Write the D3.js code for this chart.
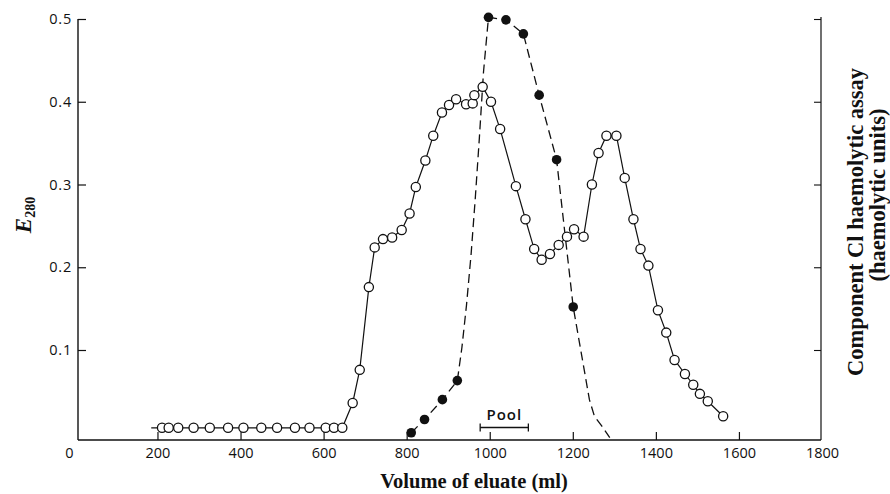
<!DOCTYPE html>
<html>
<head>
<meta charset="utf-8">
<script src="https://cdn.jsdelivr.net/npm/d3@7"></script>
<style>
  html, body { margin: 0; padding: 0; background: #fff; }
  svg { display: block; }
  .tick text { font-family: "Open Sans", sans-serif; font-size: 14.5px; fill: #111; }
</style>
</head>
<body>
<svg id="chart" width="890" height="494"></svg>
<script>
// ---- data ----
// E280 absorbance (open circles, solid line)
const e280Volume = [211, 227, 250, 287, 326, 370, 407, 450, 488, 531, 566, 605, 625, 645,
  670, 687, 709, 723, 743, 765, 788, 807, 822, 845, 864, 885, 902, 919, 943, 959, 963, 983,
  1003, 1025, 1063, 1086, 1107, 1125, 1145, 1166, 1186, 1203, 1226, 1246, 1262, 1281, 1305,
  1325, 1346, 1363, 1382, 1405, 1425, 1445, 1470, 1490, 1506, 1525, 1562];
const e280Value = [0.006, 0.006, 0.006, 0.006, 0.006, 0.006, 0.006, 0.006, 0.006, 0.006, 0.006, 0.006, 0.006, 0.006,
  0.036, 0.076, 0.176, 0.224, 0.234, 0.236, 0.245, 0.265, 0.297, 0.329, 0.359, 0.387, 0.396, 0.403, 0.397, 0.398, 0.408, 0.418,
  0.400, 0.367, 0.298, 0.258, 0.222, 0.209, 0.216, 0.227, 0.237, 0.246, 0.237, 0.300, 0.338, 0.359, 0.359,
  0.308, 0.258, 0.222, 0.202, 0.148, 0.121, 0.088, 0.071, 0.058, 0.047, 0.038, 0.020];
const e280LeadVolume = 185; // short line stub before the first circle

// Component C1 haemolytic assay (filled circles, dashed line), on the right-axis scale
const assayVolume = [811, 843, 886, 922, 997, 1039, 1081, 1119, 1161, 1201];
const assayValue = [0.0, 0.016, 0.040, 0.063, 0.502, 0.499, 0.482, 0.408, 0.330, 0.152];
// dashed curve path (includes unmarked stretches of the hand-drawn curve)
const assayCurveVolume = [811, 843, 886, 922, 933, 944, 955, 965, 975, 985, 997, 1039, 1081, 1119, 1161, 1201, 1240, 1252, 1270, 1289];
const assayCurveValue = [0.0, 0.016, 0.040, 0.063, 0.103, 0.154, 0.215, 0.282, 0.356, 0.436, 0.502, 0.499, 0.482, 0.408, 0.330, 0.152, 0.040, 0.020, 0.008, -0.006];

// pool bracket
const poolRange = [977, 1093];
const poolLabel = "Pool";

// ticks
const xTicks = [200, 400, 600, 800, 1000, 1200, 1400, 1600, 1800];
const yTicks = [0.1, 0.2, 0.3, 0.4, 0.5];
const xTitle = "Volume of eluate (ml)";
const rightTitle1 = "Component Cl haemolytic assay";
const rightTitle2 = "(haemolytic units)";

// ---- layout ----
const svg = d3.select("#chart");
const x = d3.scaleLinear().domain([0, 1800]).range([74.4, 822]);
const y = d3.scaleLinear().domain([0, 0.5]).range([432.75, 19]);
const axisY = 440;   // x-axis line position
const leftX = 78;    // left axis line
const rightX = 821;  // right axis line

const ink = "#111";

// axis lines
svg.append("line").attr("x1", leftX).attr("x2", rightX).attr("y1", axisY).attr("y2", axisY)
  .attr("stroke", ink).attr("stroke-width", 1.4);
svg.append("line").attr("x1", leftX).attr("x2", leftX).attr("y1", y(0.5)).attr("y2", axisY)
  .attr("stroke", ink).attr("stroke-width", 1.4);
svg.append("line").attr("x1", rightX).attr("x2", rightX).attr("y1", y(0.5) - 2).attr("y2", axisY)
  .attr("stroke", ink).attr("stroke-width", 1.2);

// x axis ticks (pointing up)
const gx = svg.append("g").attr("transform", `translate(0,${axisY})`)
  .call(d3.axisBottom(x).tickValues(xTicks).tickSizeInner(-8).tickSizeOuter(0).tickPadding(8)
    .tickFormat(d3.format("d")));
gx.select(".domain").remove();
gx.selectAll(".tick line").attr("stroke", ink).attr("stroke-width", 1.2);
gx.selectAll(".tick").filter(d => d === 1800).select("line").remove();
// "0" label at the origin
svg.append("text").attr("x", x(0) - 5).attr("y", axisY + 8).attr("dy", "0.71em")
  .attr("text-anchor", "middle")
  .style("font-family", "'Open Sans', sans-serif").style("font-size", "14.5px").attr("fill", ink)
  .text("0");

// left y axis
const gy = svg.append("g").attr("transform", `translate(${leftX},0)`)
  .call(d3.axisLeft(y).tickValues(yTicks).tickSizeInner(-8).tickSizeOuter(0).tickPadding(6)
    .tickFormat(d3.format(".1f")));
gy.select(".domain").remove();
gy.selectAll(".tick line").attr("stroke", ink).attr("stroke-width", 1.2);
gy.selectAll(".tick text").style("letter-spacing", "0.8px");

// right axis (ticks only, pointing inward)
const gr = svg.append("g").attr("transform", `translate(${rightX},0)`)
  .call(d3.axisRight(y).tickValues(yTicks).tickSizeInner(-7).tickSizeOuter(0).tickFormat(""));
gr.select(".domain").remove();
gr.selectAll(".tick line").attr("stroke", ink).attr("stroke-width", 1.1);

// E280 line
const e280 = e280Volume.map((v, i) => ({ v, val: e280Value[i] }));
const line = d3.line().x(d => x(d.v)).y(d => y(d.val));
svg.append("path")
  .datum([{ v: e280LeadVolume, val: e280Value[0] }].concat(e280))
  .attr("d", line).attr("fill", "none").attr("stroke", ink).attr("stroke-width", 1.2);

// assay dashed curve
const assayCurve = assayCurveVolume.map((v, i) => ({ v, val: assayCurveValue[i] }));
svg.append("path").datum(assayCurve)
  .attr("d", line)
  .attr("fill", "none").attr("stroke", ink).attr("stroke-width", 1.3)
  .attr("stroke-dasharray", "9,5");

// E280 open circles
svg.append("g").selectAll("circle").data(e280).join("circle")
  .attr("cx", d => x(d.v)).attr("cy", d => y(d.val)).attr("r", 4.6)
  .attr("fill", "#fff").attr("stroke", ink).attr("stroke-width", 1.3);

// assay filled circles
const assay = assayVolume.map((v, i) => ({ v, val: assayValue[i] }));
svg.append("g").selectAll("circle").data(assay).join("circle")
  .attr("cx", d => x(d.v)).attr("cy", d => y(d.val)).attr("r", 4.8)
  .attr("fill", ink);

// pool bracket
const poolY = 427.5;
const pg = svg.append("g").attr("stroke", ink).attr("stroke-width", 1.3);
pg.append("line").attr("x1", x(poolRange[0])).attr("x2", x(poolRange[1])).attr("y1", poolY).attr("y2", poolY);
pg.append("line").attr("x1", x(poolRange[0])).attr("x2", x(poolRange[0])).attr("y1", poolY - 4).attr("y2", poolY + 4);
pg.append("line").attr("x1", x(poolRange[1])).attr("x2", x(poolRange[1])).attr("y1", poolY - 4).attr("y2", poolY + 4);
svg.append("text").attr("x", (x(poolRange[0]) + x(poolRange[1])) / 2).attr("y", 420)
  .attr("text-anchor", "middle")
  .style("font-family", "'Open Sans', sans-serif").style("font-size", "15px").style("font-weight", "600")
  .style("letter-spacing", "1px").attr("fill", ink).text(poolLabel);

// x title
svg.append("text").attr("x", 474).attr("y", 488).attr("text-anchor", "middle")
  .style("font-family", "'Liberation Serif', serif").style("font-size", "20.5px")
  .style("font-weight", "bold").attr("fill", ink).text(xTitle);

// left title E280
const et = svg.append("text").attr("transform", "translate(31,215) rotate(-90)")
  .attr("text-anchor", "middle")
  .style("font-family", "'Liberation Serif', serif").style("font-weight", "bold").attr("fill", ink);
et.append("tspan").style("font-style", "italic").style("font-size", "23px").text("E");
et.append("tspan").style("font-size", "14px").attr("dy", 4).text("280");

// right titles
svg.append("text").attr("transform", "translate(863,222) rotate(-90)").attr("text-anchor", "middle")
  .style("font-family", "'Liberation Serif', serif").style("font-size", "22.5px").style("font-weight", "bold")
  .attr("fill", ink).text(rightTitle1);
svg.append("text").attr("transform", "translate(885,195) rotate(-90)").attr("text-anchor", "middle")
  .style("font-family", "'Liberation Serif', serif").style("font-size", "22.5px").style("font-weight", "bold")
  .attr("fill", ink).text(rightTitle2);
</script>
</body>
</html>
